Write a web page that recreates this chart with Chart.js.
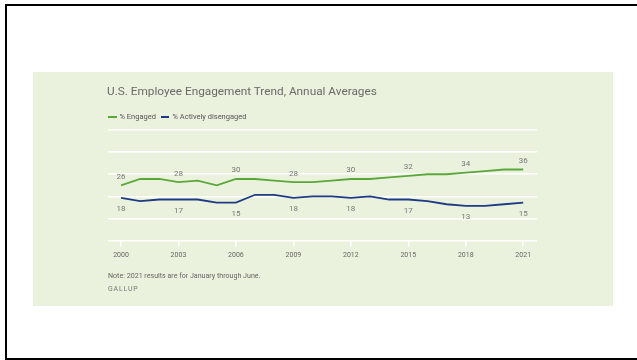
<!DOCTYPE html>
<html>
<head>
<meta charset="utf-8">
<script src="https://cdn.jsdelivr.net/npm/chart.js@4.4.0/dist/chart.umd.min.js"></script>
<style>
    body { margin: 0; width: 637px; height: 360px; background: #fff; overflow: hidden; font-family: Roboto, "Noto Sans", sans-serif; }
    #frame { position: absolute; left: 5px; top: 4px; width: 700px; height: 352px; border-top: 2px solid #000; border-left: 2px solid #000; border-bottom: 2px solid #000; }
    #panel { position: absolute; left: 33px; top: 72px; width: 580px; height: 234px; background: #eaf2dd; }
    #chart { position: absolute; left: 0; top: 0; }
    .title { position: absolute; left: 74px; top: 12px; font-size: 11.8px; line-height: 14px; color: #6a6a6a; white-space: nowrap; }
    #legend { position: absolute; left: 75px; top: 40px; font-size: 7.5px; line-height: 10px; color: #555; white-space: nowrap; }
    #legend span.sw { display: inline-block; width: 8.5px; height: 1.7px; vertical-align: middle; margin-right: 3px; }
    #legend span.item { margin-right: 5px; }
    .note { position: absolute; left: 75px; top: 199px; font-size: 7.1px; line-height: 10px; color: #666; white-space: nowrap; }
    .src { position: absolute; left: 75px; top: 212px; font-size: 7px; line-height: 10px; color: #777; letter-spacing: 0.8px; white-space: nowrap; }
</style>
</head>
<body>
<div id="frame"></div>
<div id="panel">
    <canvas id="chart" width="580" height="234"></canvas>
    <div class="title">U.S. Employee Engagement Trend, Annual Averages</div>
    <div id="legend"></div>
    <div class="note">Note: 2021 results are for January through June.</div>
    <div class="src">GALLUP</div>
</div>
<script>
// 연도 (x축)
const years = [2000, 2001, 2002, 2003, 2004, 2005, 2006, 2007, 2008, 2009, 2010,
    2011, 2012, 2013, 2014, 2015, 2016, 2017, 2018, 2019, 2020, 2021];
// % Engaged
const engaged = [26, 30, 30, 28, 29, 26, 30, 30, 29, 28, 28,
    29, 30, 30, 31, 32, 33, 33, 34, 35, 36, 36];
// % Actively disengaged
const disengaged = [18, 16, 17, 17, 17, 15, 15, 20, 20, 18, 19,
    19, 18, 19, 17, 17, 16, 14, 13, 13, 14, 15];
// x축 눈금, 값 라벨 찍을 연도
const tickYears = [2000, 2003, 2006, 2009, 2012, 2015, 2018, 2021];
const seriesNames = ['% Engaged', '% Actively disengaged'];
const seriesColors = ['#5aa83a', '#1f3a84'];

function to_points(values) {
    return years.map((y, i) => ({ x: y, y: values[i] }));
}

// 값 라벨 그려주는 플러그인 (engaged 위, disengaged 아래)
const valueLabels = {
    id: 'valueLabels',
    afterDatasetsDraw: chart => {
        let ctx = chart.ctx;
        ctx.save();
        ctx.font = '8px Roboto, sans-serif';
        ctx.fillStyle = '#777';
        ctx.textAlign = 'center';
        ctx.textBaseline = 'middle';
        chart.data.datasets.forEach((ds, di) => {
            let meta = chart.getDatasetMeta(di);
            meta.data.forEach((pt, i) => {
                if (tickYears.indexOf(years[i]) < 0) return;
                let dy = di === 0 ? -8.5 : 11.5;
                ctx.fillText(ds.data[i].y, pt.x, pt.y + dy);
            });
        });
        ctx.restore();
    }
};

function creat_chart(id) {
    const ctx = document.getElementById(id).getContext('2d');

    const data = {
        datasets: [engaged, disengaged].map((vals, i) => ({
            label: seriesNames[i],
            data: to_points(vals),
            borderColor: seriesColors[i],
            borderWidth: 1.8,
            pointRadius: 0,
            tension: 0,
        }))
    };

    return new Chart(ctx, {
        type: 'line',
        data: data,
        plugins: [valueLabels],
        options: {
            responsive: false,
            animation: false,
            layout: { padding: { left: 75, right: 76, top: 58, bottom: 43 } },
            plugins: {
                legend: { display: false },
                tooltip: { enabled: false }
            },
            scales: {
                x: {
                    type: 'linear',
                    min: 1999.32,
                    max: 2021.72,
                    afterBuildTicks: axis => {
                        axis.ticks = tickYears.map(v => ({ value: v }));
                    },
                    ticks: {
                        callback: v => String(v),
                        font: { size: 7, family: 'Roboto' },
                        color: '#666',
                        padding: 4,
                        maxRotation: 0,
                        autoSkip: false
                    },
                    grid: {
                        drawOnChartArea: false,
                        drawTicks: true,
                        tickLength: 6,
                        color: '#ffffff',
                        lineWidth: 1.5
                    },
                    border: { display: false }
                },
                y: {
                    min: -9,
                    max: 61,
                    ticks: { display: false, stepSize: 14 },
                    grid: { color: '#ffffff', lineWidth: 1.5, drawTicks: false },
                    border: { display: false }
                }
            }
        }
    });
}

creat_chart('chart');

// 범례 (html)
document.getElementById('legend').innerHTML = seriesNames.map((n, i) =>
    '<span class="item"><span class="sw" style="background:' + seriesColors[i] + '"></span>' + n + '</span>'
).join('');
</script>
</body>
</html>
